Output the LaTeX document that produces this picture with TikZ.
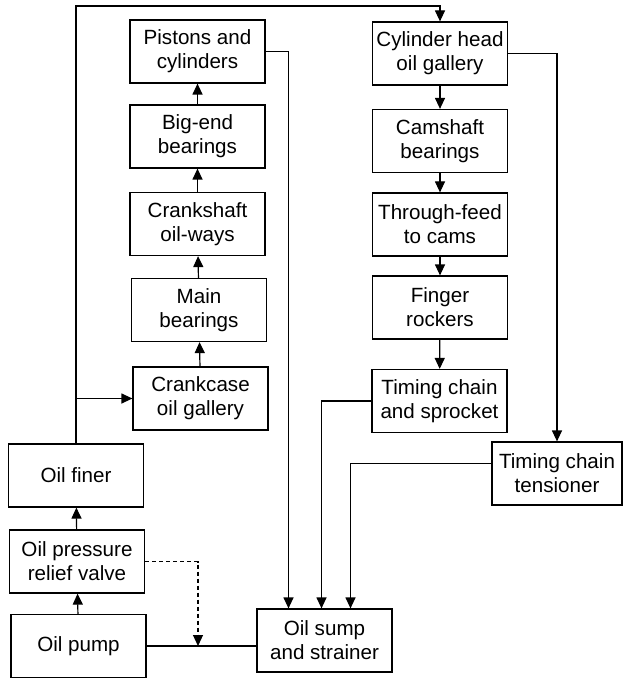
\documentclass[tikz,border=0pt]{standalone}
\usepackage{fontspec}
\setmainfont{Liberation Sans}
\usetikzlibrary{positioning, calc, arrows.meta}
\tikzset{
  box/.style={draw, line width=0.6pt, minimum width=67.5pt, minimum height=31.5pt,
    inner sep=1pt, align=center, font=\fontsize{10.3}{12}\selectfont},
  flow/.style={line width=0.6pt, -{Triangle[length=5.5pt,width=5pt]}},
  pipe/.style={line width=0.6pt}
}

\begin{document}
\begin{tikzpicture}[x=0.5pt, y=-0.5pt]
  \useasboundingbox (0,0) rectangle (623,679);
  % crankcase side
  \node[box] (pist) at (197.5,51.5) {Pistons and\\cylinders};
  \node[box] (bigend) at (197.5,136.5) {Big-end\\bearings};
  \node[box] (crank) at (197.5,224) {Crankshaft\\oil-ways};
  \node[box] (mainb) at (199,310) {Main\\bearings};
  \node[box] (ccase) at (200.5,398.5) {Crankcase\\oil gallery};
  % cylinder head side
  \node[box] (chead) at (440,53.5) {Cylinder head\\oil gallery};
  \node[box] (cam) at (440,141) {Camshaft\\bearings};
  \node[box] (feed) at (440,224.5) {Through-feed\\to cams};
  \node[box] (finger) at (440,307.5) {Finger\\rockers};
  \node[box] (sprocket) at (439.5,401) {Timing chain\\and sprocket};
  \node[box, minimum width=65pt] (tension) at (557,473.5) {Timing chain\\tensioner};
  % pump side
  \node[box] (finer) at (76,475.5) {Oil finer};
  \node[box] (relief) at (77,561.5) {Oil pressure\\relief valve};
  \node[box] (pump) at (78.5,646) {Oil pump};
  \node[box] (sump) at (324.5,640.5) {Oil sump\\and strainer};

  \coordinate (ttop) at (79,6);
  \coordinate (jx) at (198,0);

  \draw[flow] (pump) -- (relief);
  \draw[flow] (relief) -- (finer);
  \draw[flow] (finer.north) |- (chead.north |- ttop) -- (chead.north);
  \draw[flow] (finer.north |- ccase.west) -- (ccase.west);
  \draw[flow] (ccase) -- (mainb);
  \draw[flow] (mainb) -- (crank);
  \draw[flow] (crank) -- (bigend);
  \draw[flow] (bigend) -- (pist);
  \draw[flow] (chead) -- (cam);
  \draw[flow] (cam) -- (feed);
  \draw[flow] (feed) -- (finger);
  \draw[flow] (finger) -- (sprocket);
  \draw[flow] (chead.east) -| (tension.north);

  % returns to the sump
  \draw[flow] (pist.east) -| ($(sump.north)+(-36,0)$);
  \draw[flow] (sprocket.west) -| ($(sump.north)+(-3,0)$);
  \draw[flow] ($(tension.west)+(0,-10)$) -| ($(sump.north)+(26,0)$);
  \draw[pipe] (pump.east) -- (pump.east -| sump.west);
  \draw[flow, dashed, dash pattern=on 2pt off 1.5pt] (relief.east) -| (jx |- pump.east);
\end{tikzpicture}
\end{document}
